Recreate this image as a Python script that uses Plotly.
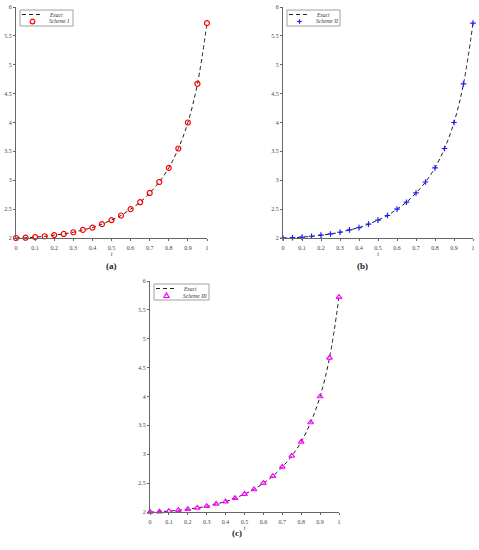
"""Exact solution vs. three numerical schemes, one panel per scheme."""

import plotly.graph_objects as go

# ---- data ----
t_nodes = [0, 0.05, 0.1, 0.15, 0.2, 0.25, 0.3, 0.35, 0.4, 0.45, 0.5,
           0.55, 0.6, 0.65, 0.7, 0.75, 0.8, 0.85, 0.9, 0.95, 1.0]
u_exact = [2.00, 2.005, 2.015, 2.03, 2.05, 2.07, 2.10, 2.14, 2.18, 2.24, 2.31,
           2.39, 2.50, 2.62, 2.78, 2.97, 3.215, 3.55, 4.00, 4.67, 5.72]
u_scheme1 = [2.00, 2.005, 2.015, 2.03, 2.05, 2.07, 2.10, 2.14, 2.18, 2.24, 2.31,
             2.39, 2.50, 2.62, 2.78, 2.97, 3.215, 3.55, 4.00, 4.67, 5.72]
u_scheme2 = [2.00, 2.005, 2.015, 2.03, 2.05, 2.07, 2.10, 2.14, 2.18, 2.24, 2.31,
             2.39, 2.50, 2.62, 2.78, 2.97, 3.215, 3.55, 4.00, 4.67, 5.72]
u_scheme3 = [2.00, 2.005, 2.015, 2.03, 2.05, 2.07, 2.10, 2.14, 2.18, 2.24, 2.31,
             2.39, 2.50, 2.62, 2.78, 2.97, 3.215, 3.55, 4.00, 4.67, 5.72]

x_ticks = [0, 0.1, 0.2, 0.3, 0.4, 0.5, 0.6, 0.7, 0.8, 0.9, 1]
x_ticklabels = ["0", "0.1", "0.2", "0.3", "0.4", "0.5", "0.6", "0.7", "0.8", "0.9", "1"]
y_ticks = [2, 2.5, 3, 3.5, 4, 4.5, 5, 5.5, 6]
y_ticklabels = ["2", "2.5", "3", "3.5", "4", "4.5", "5", "5.5", "6"]

panels = [
    # name, values, marker symbol, colour, caption
    ("Scheme I", u_scheme1, "circle-open", "#ff0000", "(a)"),
    ("Scheme II", u_scheme2, "cross-thin-open", "#1a1aff", "(b)"),
    ("Scheme III", u_scheme3, "triangle-up-open", "#ff00ff", "(c)"),
]

W, H = 479, 550
# plot boxes in pixels: (left, right, top, bottom)
boxes = [(16, 207, 7, 238), (283, 473, 7, 238), (150, 339, 281, 512)]

SERIF = "Liberation Serif, Times New Roman, serif"
TXT = "#444444"
fig = go.Figure()


def px(x, y):
    """pixel position -> paper coordinates"""
    return x / W, 1 - y / H


for i, ((name, vals, sym, col, cap), (l, r, tp, bt)) in enumerate(zip(panels, boxes)):
    k = "" if i == 0 else str(i + 1)
    fig.add_trace(go.Scatter(
        x=t_nodes, y=u_exact, mode="lines", name="Exact",
        line=dict(color="#222222", width=1, dash="4px,3px", shape="spline"),
        xaxis="x" + k, yaxis="y" + k, showlegend=False, cliponaxis=False,
    ))
    fig.add_trace(go.Scatter(
        x=t_nodes, y=vals, mode="markers", name=name,
        marker=dict(symbol=sym, color=col, size=5 if i != 1 else 4,
                    line=dict(width=1.2, color=col)),
        xaxis="x" + k, yaxis="y" + k, showlegend=False, cliponaxis=False,
    ))

    axis_style = dict(
        showgrid=False, zeroline=False, showline=True, linecolor="#666666",
        linewidth=1, ticks="outside", ticklen=2, tickcolor="#666666",
        tickfont=dict(family=SERIF, size=6, color=TXT), automargin=False,
    )
    fig.layout["xaxis" + k] = dict(
        axis_style, domain=[l / W, r / W], range=[0, 1], anchor="y" + k,
        tickvals=x_ticks, ticktext=x_ticklabels, ticklabelstandoff=2,
        title=dict(text="<i>t</i>", font=dict(family=SERIF, size=6, color=TXT),
                   standoff=0),
    )
    fig.layout["yaxis" + k] = dict(
        axis_style, domain=[1 - bt / H, 1 - tp / H], range=[2, 6], anchor="x" + k,
        tickvals=y_ticks, ticktext=y_ticklabels,
    )

    # hand-drawn legend box in the top-left corner of the panel
    bx0, by0 = px(l + 4, tp + 3)
    bx1, by1 = px(l + 57 + (2 if i == 2 else 0), tp + 19)
    fig.add_shape(type="rect", xref="paper", yref="paper",
                  x0=bx0, y0=by1, x1=bx1, y1=by0,
                  line=dict(color="#888888", width=0.8), fillcolor="white", layer="above")
    lx0, ly = px(l + 6, tp + 7.5)
    lx1, _ = px(l + 27, tp + 7.5)
    fig.add_shape(type="line", xref="paper", yref="paper",
                  x0=lx0, y0=ly, x1=lx1, y1=ly, layer="above",
                  line=dict(color="#222222", width=1, dash="4px,3px"))
    mx, my = l + 16.5, tp + 14.5
    if i == 0:
        a0, b0 = px(mx - 2.3, my - 2.3)
        a1, b1 = px(mx + 2.3, my + 2.3)
        fig.add_shape(type="circle", xref="paper", yref="paper", layer="above",
                      x0=a0, y0=b1, x1=a1, y1=b0, line=dict(color=col, width=1.2))
    elif i == 1:
        for dx, dy in [(2.2, 0), (0, 2.2)]:
            a0, b0 = px(mx - dx, my - dy)
            a1, b1 = px(mx + dx, my + dy)
            fig.add_shape(type="line", xref="paper", yref="paper", layer="above",
                          x0=a0, y0=b0, x1=a1, y1=b1, line=dict(color=col, width=1.2))
    else:
        pts = [px(mx, my - 2.6), px(mx - 2.6, my + 2), px(mx + 2.6, my + 2)]
        path = "M " + " L ".join(f"{a},{b}" for a, b in pts) + " Z"
        fig.add_shape(type="path", xref="paper", yref="paper", layer="above",
                      path=path, line=dict(color=col, width=1.2))
    for label, yy in [("Exact", tp + 7.5), (name, tp + 14.5)]:
        ax, ay = px(l + 31, yy)
        fig.add_annotation(text=f"<i>{label}</i>", xref="paper", yref="paper",
                           x=ax, y=ay, xanchor="left", yanchor="middle",
                           showarrow=False,
                           font=dict(family=SERIF, size=5.5, color="#333333"))

    cx, cy = px((l + r) / 2 - 8, bt + 28)
    fig.add_annotation(
        text=f"<b>{cap}</b>", xref="paper", yref="paper", x=cx, y=cy,
        showarrow=False, font=dict(family=SERIF, size=9, color="#222222"),
    )

fig.update_layout(
    width=W, height=H, margin=dict(l=0, r=0, t=0, b=0),
    plot_bgcolor="white", paper_bgcolor="white", showlegend=False,
)

# the page's default 8px body margin would push the figure off the window
fig.write_html("out.html", config={"displayModeBar": False},
               post_script="document.body.style.margin='0';")
